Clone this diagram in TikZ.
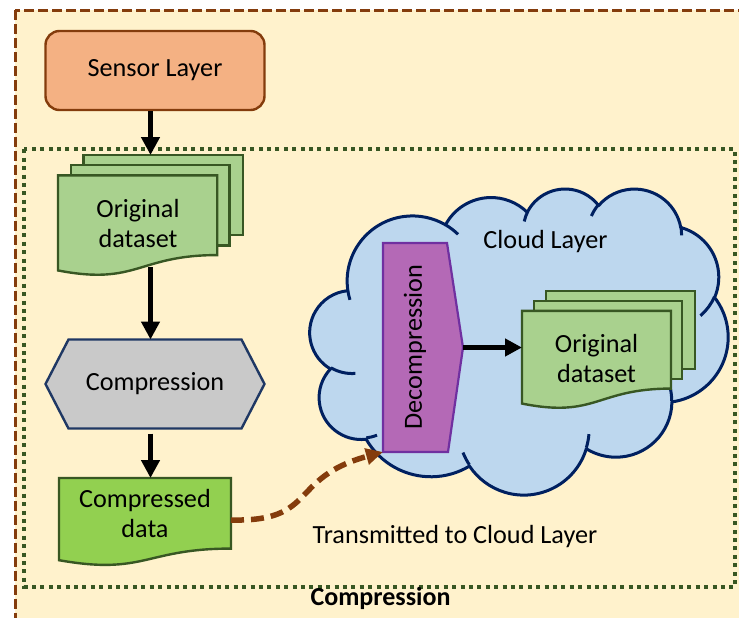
\documentclass[tikz,border=0pt]{standalone}
\usepackage{fontspec}
\setmainfont{Carlito}
\usetikzlibrary{arrows.meta,calc}

\definecolor{pagecream}{HTML}{FFF2CC}
\definecolor{rust}{HTML}{843C0C}
\definecolor{leaf}{HTML}{385723}
\definecolor{sensorfill}{HTML}{F4B183}
\definecolor{docfill}{HTML}{A9D18E}
\definecolor{datafill}{HTML}{92D050}
\definecolor{hexfill}{HTML}{C9C9C9}
\definecolor{hexline}{HTML}{1F3864}
\definecolor{skyfill}{HTML}{BDD7EE}
\definecolor{navy}{HTML}{002060}
\definecolor{plumfill}{HTML}{B469B6}
\definecolor{plumline}{HTML}{7030A0}

\pgfdeclarelayer{back}
\pgfdeclarelayer{mid}
\pgfsetlayers{back,mid,main}

% One arc of the cloud outline: x radius, y radius, start angle, sweep.
% The angles are visual angles on the ellipse; they are turned into
% parametric ones for TikZ.
\newcommand\cloudarc[4]{%
  arc[start angle={atan2(#1*sin(#3),#2*cos(#3))},
      delta angle={mod(atan2(#1*sin(#3+#4),#2*cos(#3+#4))-atan2(#1*sin(#3),#2*cos(#3))+720,360)},
      x radius=#1, y radius=#2]}

% Stack of three sheets inside the box of node #1 (width #2, height #3), fill #4
\newcommand\multisheets[4]{%
  \begin{scope}[shift={(#1.north west)}, x=#2pt, y=-#3pt]
    \filldraw[sheet, fill=#4] (0.1376,0) rectangle (1,0.668);
    \filldraw[sheet, fill=#4] (0.0709,0.084) rectangle (0.926,0.754);
    \filldraw[sheet, fill=#4] (0,0.170) -- (0.861,0.170) -- (0.861,0.834)
      .. controls (0.43,0.834) and (0.43,1.09) .. (0,0.962) -- cycle;
  \end{scope}}

% Single sheet with a wavy lower edge inside the box of node #1
\newcommand\docsheet[4]{%
  \begin{scope}[shift={(#1.north west)}, x=#2pt, y=-#3pt]
    \filldraw[sheet, fill=#4] (0,0) -- (1,0) -- (1,0.802)
      .. controls (0.5,0.802) and (0.5,1.1075) .. (0,0.934) -- cycle;
  \end{scope}}

\tikzset{
  txt/.style={font=\fontsize{26.2}{30}\selectfont, align=center, inner sep=0pt},
  boxnode/.style={inner sep=0pt, outer sep=0pt},
  sheet/.style={draw=leaf, line width=2.4pt, line join=miter},
  flowarrow/.style={line width=5.5pt, -{Triangle[width=18pt,length=18pt]}},
  sendarrow/.style={rust, line width=5.5pt, dash pattern=on 13pt off 7pt,
    -{Triangle[width=16pt,length=17pt]}},
  cloudbody/.style={fill=skyfill, draw=navy, line width=3pt, line join=round},
}

\begin{document}
\begin{tikzpicture}[x=1pt,y=-1pt]
\useasboundingbox (0,0) rectangle (739,618);

% ---------- nodes ----------
\node[txt, draw=rust, fill=sensorfill, line width=2.4pt, rounded corners=14pt,
      minimum width=219pt, minimum height=79pt] (sensor) at (155,70.5) {Sensor Layer};
\node[boxnode, minimum width=185pt, minimum height=120pt] (od) at (150.5,215) {};
\node[txt] (odtext) at (138,223) {Original\\dataset};
\node[boxnode, txt, minimum width=219pt, minimum height=89pt] (comp) at (155,384) {Compression};
\node[boxnode, minimum width=172pt, minimum height=88pt] (cd) at (145,522) {};
\node[txt] (cdtext) at (145,513) {Compressed\\data};
\node[boxnode, minimum width=80pt, minimum height=209pt] (dec) at (423,347.5) {};
\node[txt, rotate=90] (dectext) at (415,347) {Decompression};
\node[boxnode, minimum width=173pt, minimum height=117pt] (rd) at (608.5,349.5) {};
\node[txt] (rdtext) at (596.5,358) {Original\\dataset};
\node[txt] (cloudtext) at (545.5,242) {Cloud Layer};
\node[txt] (sendtext) at (455,537) {Transmitted to Cloud Layer};
\node[txt, font=\fontsize{26}{30}\selectfont\bfseries] (edgetitle) at (380.5,598) {Compression};

% ---------- frames and cloud ----------
\begin{pgfonlayer}{back}
  \fill[white] (0,0) rectangle (739,618);
  \filldraw[rust, fill=pagecream, line width=3pt, dash pattern=on 10pt off 4pt]
    (15,10.5) rectangle (760,640);
  \draw[leaf, line width=4pt, dash pattern=on 4pt off 4.4pt]
    (24.3,149.3) rectangle (735,586.7);
  \begin{scope}[shift={(310,188)}, x=9.676pt, y=-7.083pt]
    \filldraw[cloudbody] (3.9,14.37)
      \cloudarc{6.753}{9.19}{-190.4875}{123.7805}
      \cloudarc{5.333}{7.267}{-144.1024}{89.9452}
      \cloudarc{4.365}{5.945}{-145.8079}{99.7230}
      \cloudarc{4.857}{6.595}{-130.9861}{117.2417}
      \cloudarc{5.333}{7.273}{-78.7089}{109.0269}
      \cloudarc{6.775}{9.22}{-46.2673}{130.2690}
      \cloudarc{5.785}{7.867}{0.6250}{114.0333}
      \cloudarc{6.752}{9.215}{22.4516}{115.1726}
      \cloudarc{7.72}{10.543}{66.2426}{75.7110}
      \cloudarc{4.36}{5.918}{-274.9421}{146.7356}
      \cloudarc{4.345}{5.945}{-246.8285}{152.5189}
      -- cycle;
    \draw[navy, line width=3pt]
      (4.693,26.177) \cloudarc{4.345}{5.945}{86.742}{26.4295}
      (6.928,34.899) \cloudarc{4.36}{5.918}{73.6105}{11.4475}
      (16.478,39.09) \cloudarc{6.752}{9.215}{137.6242}{14.0811}
      (28.827,34.751) \cloudarc{6.752}{9.215}{6.4533}{15.9984}
      (34.129,22.954) \cloudarc{5.785}{7.867}{-70.2924}{70.9174}
      (41.798,15.354) \cloudarc{5.333}{7.273}{30.3180}{27.7515}
      (38.324,5.426) \cloudarc{4.857}{6.595}{-13.7443}{14.8570}
      (29.078,3.952) \cloudarc{4.857}{6.595}{-149.1815}{18.1959}
      (22.141,4.72) \cloudarc{4.365}{5.945}{-163.4943}{17.6893}
      (14.0,5.192) \cloudarc{6.753}{9.19}{-66.7070}{12.3194}
      (4.127,15.789) \cloudarc{6.753}{9.19}{157.6544}{11.8582};
  \end{scope}
\end{pgfonlayer}

% ---------- shapes behind the texts ----------
\begin{pgfonlayer}{mid}
  \multisheets{od}{185}{120}{docfill}
  \filldraw[fill=hexfill, draw=hexline, line width=2.4pt, line join=miter]
    (comp.west) -- ([xshift=23pt]comp.north west) -- ([xshift=-23pt]comp.north east)
    -- (comp.east) -- ([xshift=-23pt]comp.south east) -- ([xshift=23pt]comp.south west) -- cycle;
  \docsheet{cd}{172}{88}{datafill}
  \filldraw[fill=plumfill, draw=plumline, line width=2.2pt, line join=miter]
    (dec.north west) -- ([xshift=-16pt]dec.north east) -- (dec.east)
    -- ([xshift=-15pt]dec.south east) -- (dec.south west) -- cycle;
  \multisheets{rd}{173}{117}{docfill}
\end{pgfonlayer}

% ---------- connectors ----------
\draw[flowarrow] (od.north |- sensor.south) -- (od.north);
\draw[flowarrow] ([yshift=8pt]od.south) -- (od.south |- comp.north);
\draw[flowarrow] ([yshift=-5pt]comp.south -| od.south) -- (od.south |- cd.north);
\draw[line width=5pt, -{Triangle[width=17pt,length=17pt]}] (dec.east) -- (dec.east -| rd.west);
\draw[sendarrow] ([yshift=2pt]cd.east) .. controls (318,522) and (288,478) .. (dec.south west);
\end{tikzpicture}
\end{document}
